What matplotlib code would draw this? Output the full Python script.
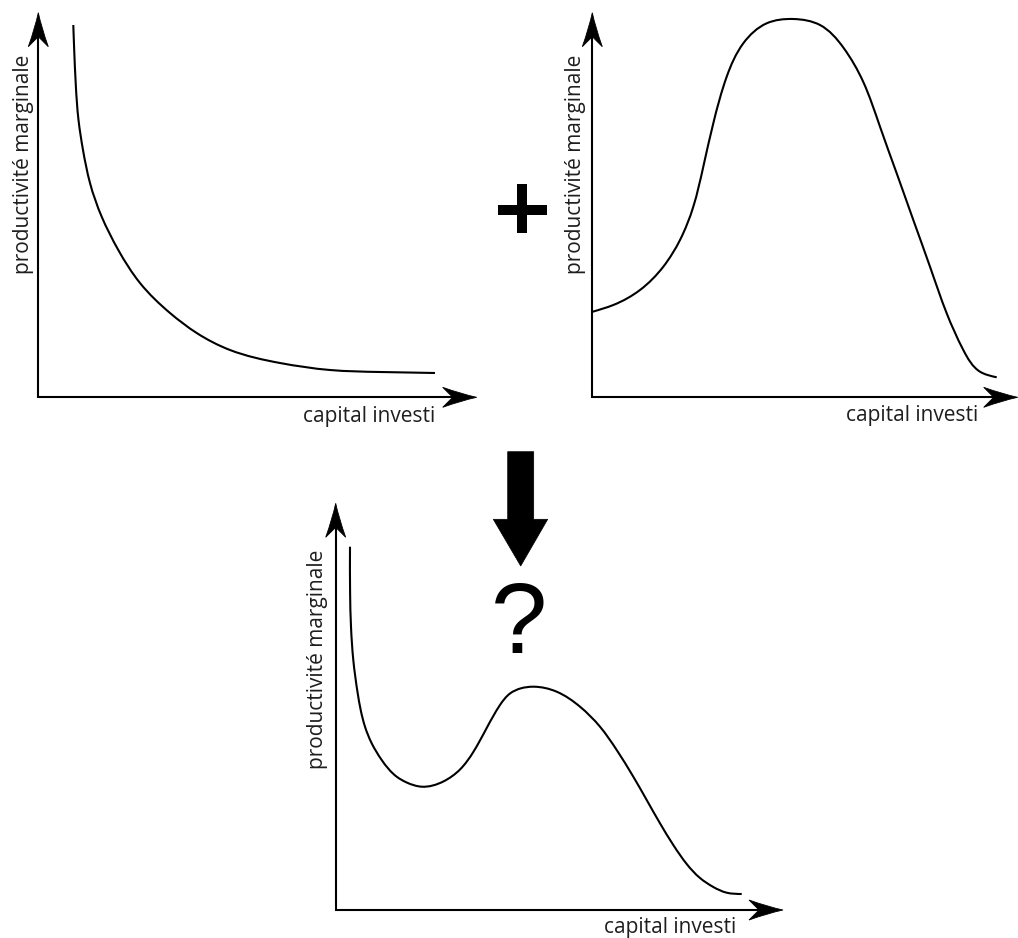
import numpy as np
import matplotlib
matplotlib.use("Agg")
import matplotlib.pyplot as plt
from matplotlib.path import Path
from matplotlib.patches import PathPatch, Polygon, Rectangle

# ---------------- data (panel-relative units: capital investi, productivité) -------------
# Panel 1 : rendements décroissants
p1_x = [35.0, 35.9, 37.5, 40.2, 44.7, 51.7, 63.4, 80.0, 101.7, 131.7, 158.4, 191.7,
        241.7, 291.7, 341.7, 396.7]
p1_y = [372.3, 347.3, 312.3, 277.3, 247.3, 214.3, 180.6, 147.3, 114.3, 84.3, 64.3,
        47.3, 34.3, 27.3, 25.3, 24.3]

# Panel 2 : rendements croissants puis décroissants
p2_x = [0.4, 21, 47.7, 71, 87.7, 101, 111, 121, 134.4, 151, 174.4, 201, 227.7, 251, 271,
        287.7, 304.4, 321, 337.7, 354.4, 371, 387.7, 404.4]
p2_y = [85.6, 92.3, 107.3, 130.6, 157.3, 190.6, 230.6, 274, 320.6, 354, 374, 378.3,
        372.3, 349.8, 315.3, 270.6, 224, 177.3, 130.6, 84, 47.3, 25.6, 20]

# Panel 3 : combinaison ?
p3_x = [14.3, 14.4, 15.3, 17.6, 22.0, 25.0, 29.3, 36.0, 46.0, 61.0, 71.0, 86.0, 107.6,
        124.3, 137.6, 151.0, 164.3, 174.3, 185.3, 197.6, 221.0, 244.3, 264.3, 281.0,
        297.6, 311.0, 324.3, 337.6, 351.0, 364.3, 377.6, 391.0, 406.0]
p3_y = [363.3, 317.0, 283.3, 250.0, 216.7, 200.0, 183.3, 166.7, 150.0, 133.3, 127.5,
        123.3, 128.5, 140.5, 158.0, 182.0, 205.0, 216.5, 221.7, 223.3, 218.3, 203.3,
        183.3, 160.0, 133.3, 110.0, 86.7, 65.0, 46.0, 32.0, 23.0, 17.3, 16.0]

ylabel = "productivité marginale"
xlabel = "capital investi"

# ---------------- figure ----------------
W, H = 1018, 938
DPI = 100
fig = plt.figure(figsize=(W / DPI, H / DPI), dpi=DPI)
fig.patch.set_facecolor("white")

bg = fig.add_axes([0, 0, 1, 1])
bg.set_xlim(0, W)
bg.set_ylim(H, 0)
bg.axis("off")

LW = 1.5
TXT = "#1e1e1e"
FONT = ["Open Sans", "DejaVu Sans"]


def smooth_path(xs, ys):
    """C2 (natural) cubic spline through the points, chord-length parameterised,
    expressed as Bezier segments so matplotlib draws it as a smooth path."""
    P = np.column_stack([xs, ys]).astype(float)
    n = len(P)
    h = np.hypot(*np.diff(P, axis=0).T)
    delta = np.diff(P, axis=0) / h[:, None]
    A = np.zeros((n, n))
    B = np.zeros((n, 2))
    A[0, 0], A[0, 1] = 2, 1
    B[0] = 3 * delta[0]
    for i in range(1, n - 1):
        A[i, i - 1] = h[i]
        A[i, i] = 2 * (h[i - 1] + h[i])
        A[i, i + 1] = h[i - 1]
        B[i] = 3 * (h[i] * delta[i - 1] + h[i - 1] * delta[i])
    A[-1, -2], A[-1, -1] = 1, 2
    B[-1] = 3 * delta[-1]
    m = np.linalg.solve(A, B)
    verts = [P[0]]
    codes = [Path.MOVETO]
    for i in range(n - 1):
        c1 = P[i] + m[i] * h[i] / 3.0
        c2 = P[i + 1] - m[i + 1] * h[i] / 3.0
        verts += [c1, c2, P[i + 1]]
        codes += [Path.CURVE4] * 3
    return Path(verts, codes)


def arrowhead(ax, tip, direction):
    d = np.array(direction, float)
    n = np.array([-d[1], d[0]])
    t = np.array(tip, float)
    L, Wd, notch = 34, 10, 24
    cA = t - d * L + n * Wd
    cB = t - d * L - n * Wd
    ctrlA = t - d * 15 + n * 3.2
    ctrlB = t - d * 15 - n * 3.2
    nb = t - d * notch
    verts = [t, ctrlA, cA, nb, cB, ctrlB, t, t]
    codes = [Path.MOVETO, Path.CURVE3, Path.CURVE3, Path.LINETO, Path.LINETO,
             Path.CURVE3, Path.CURVE3, Path.CLOSEPOLY]
    ax.add_patch(PathPatch(Path(verts, codes), facecolor="black", edgecolor="black",
                           lw=0.6, clip_on=False, zorder=3))


def panel(ox, oy, xtip, ytip, xs, ys):
    w = xtip - ox
    h = oy - ytip
    ax = fig.add_axes([ox / W, (H - oy) / H, w / W, h / H])
    ax.set_xlim(0, w)
    ax.set_ylim(0, h)
    ax.axis("off")
    ax.patch.set_alpha(0)
    ax.plot([-0.7, w - 20], [0, 0], color="black", lw=LW, clip_on=False,
            solid_capstyle="butt")
    ax.plot([0, 0], [-0.7, h - 20], color="black", lw=LW, clip_on=False,
            solid_capstyle="butt")
    arrowhead(ax, (w, 0), (1, 0))
    arrowhead(ax, (0, h), (0, 1))
    ax.add_patch(PathPatch(smooth_path(xs, ys), facecolor="none", edgecolor="black",
                           lw=LW, clip_on=False, capstyle="butt", joinstyle="round"))
    return ax


panel(38.3, 397.3, 476.7, 12.7, p1_x, p1_y)
panel(592.3, 397.3, 1017.7, 12.7, p2_x, p2_y)
panel(335.7, 910.0, 783.0, 503.3, p3_x, p3_y)

# axis labels
FS = 15
for (x, y) in [(23.3, 164), (575.3, 164), (318.0, 659)]:
    bg.text(x, y, ylabel, rotation=90, ha="center", va="center", fontsize=FS,
            color=TXT, family=FONT)
for (x, y) in [(435.0, 421.7), (978.3, 420.7), (736.0, 933.5)]:
    bg.text(x, y, xlabel, ha="right", va="baseline", fontsize=FS, color=TXT,
            family=FONT)

# plus sign
bg.add_patch(Rectangle((497.7, 204.7), 49.6, 10.2, color="black", lw=0))
bg.add_patch(Rectangle((517.3, 184.0), 10.2, 49.3, color="black", lw=0))

# big down arrow
bg.add_patch(Polygon([(507.7, 451.7), (533.7, 451.7), (533.7, 519.3), (547.7, 519.3),
                      (520.7, 566.0), (493.3, 519.3), (507.7, 519.3)],
                     closed=True, facecolor="black", edgecolor="black", lw=0.5))

# question mark
bg.text(519.2, 653.3, "?", ha="center", va="baseline", fontsize=73, color="black",
        family=["Liberation Sans", "DejaVu Sans"])

fig.savefig("out.png", dpi=DPI, facecolor="white")
